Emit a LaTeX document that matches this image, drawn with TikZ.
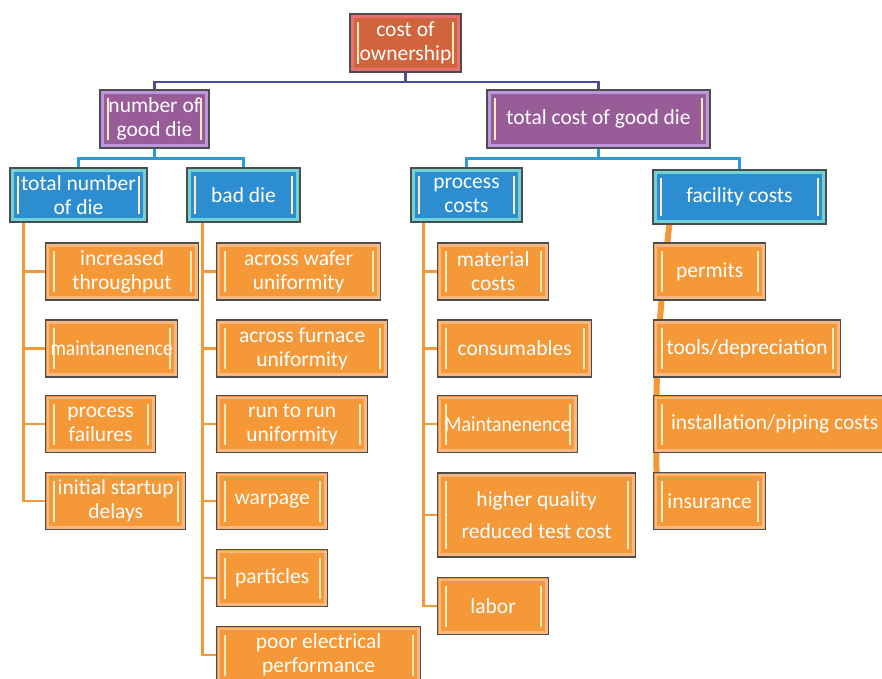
\documentclass[tikz,border=0pt]{standalone}
\usepackage{fontspec}
\setmainfont{Carlito}
\usetikzlibrary{backgrounds}

\definecolor{rootfill}{RGB}{208,100,60}
\definecolor{rootedge}{RGB}{232,112,112}
\definecolor{plumfill}{RGB}{152,92,152}
\definecolor{plumedge}{RGB}{188,150,218}
\definecolor{bluefill}{RGB}{44,142,208}
\definecolor{blueedge}{RGB}{112,210,210}
\definecolor{leaffill}{RGB}{245,152,56}
\definecolor{leafedge}{RGB}{250,184,128}
\definecolor{shine}{RGB}{255,236,190}
\definecolor{navyline}{RGB}{76,76,156}
\definecolor{skyline}{RGB}{44,154,216}
\definecolor{leafline}{RGB}{243,152,56}

\tikzset{%
  tile/.style 2 args={rectangle, draw=black!70, line width=1.3pt, fill=#1, text=white,%
    align=center, font=\fontsize{21.5}{24}\selectfont, inner sep=1pt,%
    path picture={%
      \draw[#2, line width=2.6pt] ([shift={(2.3pt,2.3pt)}]path picture bounding box.south west) rectangle ([shift={(-2.3pt,-2.3pt)}]path picture bounding box.north east);%
      \draw[shine, line width=2.2pt] ([shift={(8pt,8pt)}]path picture bounding box.south west) -- ([shift={(8pt,-8pt)}]path picture bounding box.north west);%
      \draw[shine, line width=2.2pt] ([shift={(-8pt,8pt)}]path picture bounding box.south east) -- ([shift={(-8pt,-8pt)}]path picture bounding box.north east);%
    }},%
  rootbox/.style={tile={rootfill}{rootedge}, minimum height=58pt},%
  plumbox/.style={tile={plumfill}{plumedge}, minimum height=58pt},%
  bluebox/.style={tile={bluefill}{blueedge}, minimum height=54pt},%
  leafbox/.style={tile={leaffill}{leafedge}, minimum height=57pt, anchor=west},%
  navylink/.style={draw=navyline, line width=2.2pt},%
  skylink/.style={draw=skyline, line width=2.5pt},%
  leaflink/.style={draw=leafline, line width=2.5pt},%
}

\begin{document}
\begin{tikzpicture}[x=1pt, y=-1pt]%
\useasboundingbox (0,0) rectangle (882,678);%
\node[rootbox, minimum width=111pt] (own) at (405.5,43) {cost of\\ownership};%
\node[plumbox, minimum width=109pt] (gooddie) at (154.5,119) {number of\\good die};%
\node[plumbox, minimum width=223pt] (costdie) at (598.5,119) {total cost of good die};%
\node[bluebox, minimum width=137pt] (alldie) at (78.5,195) {total number\\of die};%
\node[bluebox, minimum width=113pt] (baddie) at (243.5,195) {bad die};%
\node[bluebox, minimum width=111pt] (proc) at (466.5,195) {process\\costs};%
\node[bluebox, minimum width=173pt] (facil) at (739.5,197) {facility costs};%
%
\node[leafbox, minimum width=153pt] (thru) at (45,271.5) {increased\\throughput};%
\node[leafbox, minimum width=132pt] (maint) at (45,348.5) {\scalebox{0.9}[1]{maintanenence}};%
\node[leafbox, minimum width=110pt] (fail) at (45,424) {process\\failures};%
\node[leafbox, minimum width=140pt] (startup) at (45,501) {initial startup\\delays};%
%
\node[leafbox, minimum width=164pt] (wafer) at (216,271.5) {across wafer\\uniformity};%
\node[leafbox, minimum width=171pt] (furnace) at (216,348.5) {across furnace\\uniformity};%
\node[leafbox, minimum width=151pt] (runrun) at (216,424) {run to run\\uniformity};%
\node[leafbox, minimum width=111pt] (warp) at (216,501) {warpage};%
\node[leafbox, minimum width=111pt] (part) at (216,578) {particles};%
\node[leafbox, minimum width=204pt] (elec) at (216,655) {poor electrical\\performance};%
%
\node[leafbox, minimum width=111pt] (matl) at (437,271.5) {material\\costs};%
\node[leafbox, minimum width=154pt] (cons) at (437,348.5) {consumables};%
\node[leafbox, minimum width=140pt] (Maint) at (437,424) {\scalebox{0.92}[1]{Maintanenence}};%
\node[leafbox, minimum width=198pt, minimum height=84pt] (quality) at (437,515) {higher quality\\[8pt]reduced test cost};%
\node[leafbox, minimum width=111pt] (labor) at (437,606) {labor};%
%
\node[leafbox, minimum width=112pt] (permit) at (653,271.5) {permits};%
\node[leafbox, minimum width=187pt] (tools) at (653,348.5) {tools/depreciation};%
\node[leafbox, minimum width=242pt] (pipe) at (653,424) {installation/piping costs};%
\node[leafbox, minimum width=112pt] (insur) at (653,501) {insurance};%
%
\draw[navylink] (own.south) -- ++(0,9) -| (gooddie.north);%
\draw[navylink] (own.south) -- ++(0,9) -| (costdie.north);%
\draw[skylink] (gooddie.south) -- ++(0,10) -| (alldie.north);%
\draw[skylink] (gooddie.south) -- ++(0,10) -| (baddie.north);%
\draw[skylink] (costdie.south) -- ++(0,10) -| (proc.north);%
\draw[skylink] (costdie.south) -- ++(0,10) -| (facil.north);%
\foreach \leaf in {thru,maint,fail,startup}%
  \draw[leaflink] (alldie.south west) ++(14,0) |- (\leaf.west);%
\foreach \leaf in {wafer,furnace,runrun,warp,part,elec}%
  \draw[leaflink] (baddie.south west) ++(16,0) |- (\leaf.west);%
\foreach \leaf in {matl,cons,Maint,quality,labor}%
  \draw[leaflink] (proc.south west) ++(13,0) |- (\leaf.west);%
\begin{scope}[on background layer]%
\draw[leaflink, line width=6pt] ([xshift=17pt]facil.south west) to[bend right=4] ([shift={(4pt,8pt)}]insur.west);%
\end{scope}%
\end{tikzpicture}%
\end{document}
